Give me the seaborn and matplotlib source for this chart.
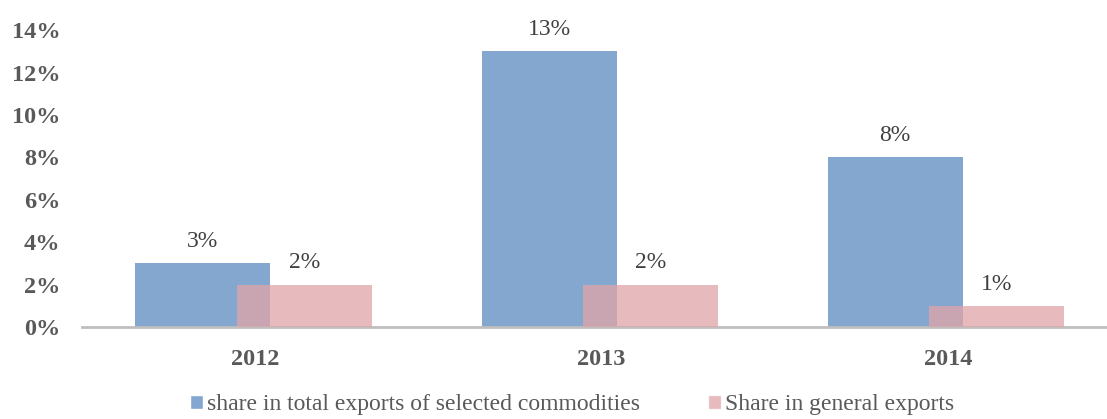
import matplotlib
matplotlib.use("Agg")
import matplotlib.pyplot as plt
from matplotlib.patches import Patch
import seaborn as sns
import pandas as pd

years = ["2012", "2013", "2014"]
series_names = ["share in total exports of selected commodities", "Share in general exports"]
selected_share = [3, 13, 8]
general_share = [2, 2, 1]
y_ticks = [0, 2, 4, 6, 8, 10, 12, 14]

colors = ["#84A7D0", "#E0A5A7"]
text_grey = "#595959"

df = pd.DataFrame({
    "year": years * 2,
    "series": [series_names[0]] * 3 + [series_names[1]] * 3,
    "value": selected_share + general_share,
})

sns.set_theme(style="white")
plt.rcParams["font.family"] = ["Liberation Serif", "DejaVu Serif"]

fig = plt.figure(figsize=(11.07, 4.19), dpi=100)
ax = fig.add_axes([0.0745, 0.2196, 0.9255, 0.7084])

sns.barplot(data=df, x="year", y="value", hue="series", palette=colors,
            width=0.8, dodge=True, ax=ax, legend=False, saturation=1)

# Pull each pair of bars toward each other so they overlap; the second series sits on top, translucent
n = len(years)
bars = ax.patches[: 2 * n]
for i, p in enumerate(bars):
    if i < n:
        p.set_x(p.get_x() + 0.053)
        p.set_alpha(1.0)
        p.set_zorder(2)
    else:
        p.set_x(p.get_x() - 0.053)
        p.set_alpha(0.75)
        p.set_zorder(3)
    p.set_width(0.39)
    p.set_edgecolor("none")

values = selected_share + general_share
for p, v in zip(bars, values):
    ax.text(p.get_x() + p.get_width() / 2, v + 1.02, f"{v}%", ha="center", va="center",
            fontsize=17, color="#404040", zorder=5)

ax.set_ylim(0, 14)
ax.set_xlim(-0.5, 2.46)
ax.set_yticks(y_ticks)
ax.set_yticklabels([f"{t}%" for t in y_ticks], fontweight="bold", fontsize=17.5, color=text_grey)
ax.set_xticks(range(n))
ax.set_xticklabels(years, fontweight="bold", fontsize=17.5, color=text_grey)
ax.tick_params(axis="y", length=0, pad=16)
ax.tick_params(axis="x", length=0, pad=16)
ax.set_xlabel("")
ax.set_ylabel("")
for s in ["top", "right", "left"]:
    ax.spines[s].set_visible(False)
ax.spines["bottom"].set_color("#BFBFBF")
ax.spines["bottom"].set_linewidth(2)
ax.grid(False)

handles = [Patch(facecolor=colors[0]), Patch(facecolor=colors[1], alpha=0.75)]
fig.legend(handles, series_names, loc="lower center", bbox_to_anchor=(0.517, -0.042), ncol=2,
           frameon=False, fontsize=17, handlelength=0.55, handleheight=0.55,
           handletextpad=0.15, columnspacing=2.9, labelcolor=text_grey)

fig.savefig("out.png", dpi=100)
